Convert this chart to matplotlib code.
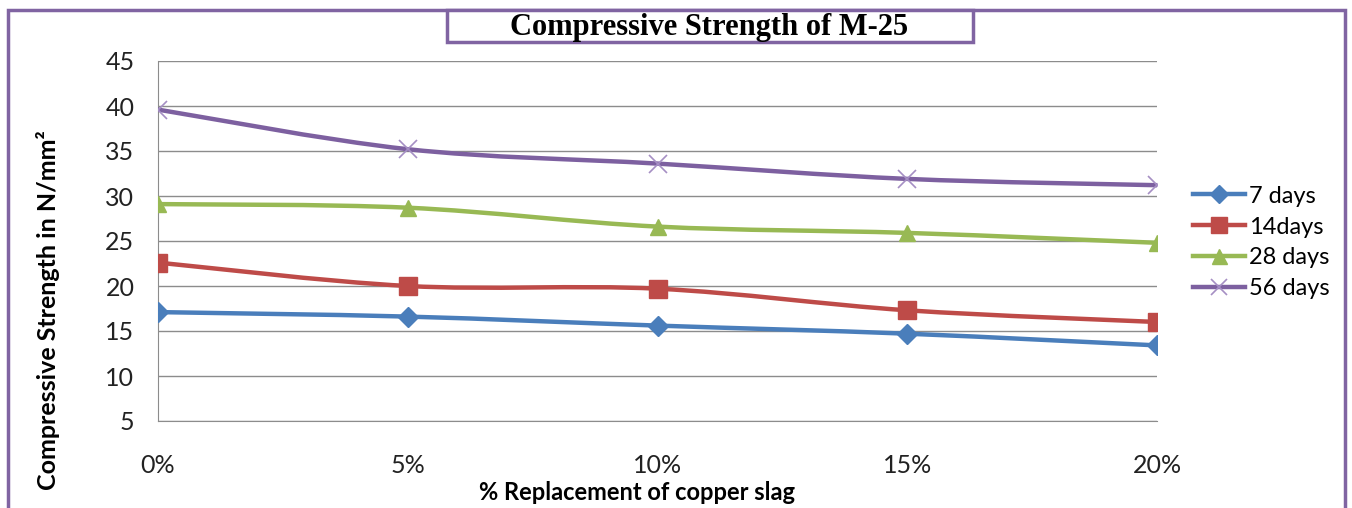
import numpy as np
import matplotlib.pyplot as plt
from matplotlib.path import Path
from matplotlib.patches import PathPatch, Rectangle
from matplotlib.lines import Line2D

# --- data ---
categories = ['0%', '5%', '10%', '15%', '20%']
days_7 = [17.1, 16.6, 15.6, 14.7, 13.4]
days_14 = [22.6, 20.0, 19.7, 17.3, 16.0]
days_28 = [29.1, 28.7, 26.6, 25.9, 24.8]
days_56 = [39.6, 35.2, 33.6, 31.9, 31.2]
series_names = ['7 days', '14days', '28 days', '56 days']

colors = ['#4A7EBB', '#BE4B48', '#98B954', '#7D60A0']
markers = ['D', 's', '^', 'x']
msizes = [10, 13, 12, 13]
border = '#8064A2'

W, H = 1352, 508


def smooth_path(xs, ys):
    # Excel-style smoothed line: Catmull-Rom as cubic Bezier segments
    p = np.column_stack([xs, ys]).astype(float)
    ext = np.vstack([p[0], p, p[-1]])
    verts = [p[0]]
    codes = [Path.MOVETO]
    for i in range(len(p) - 1):
        p0, p1, p2, p3 = ext[i], ext[i + 1], ext[i + 2], ext[i + 3]
        verts += [p1 + (p2 - p0) / 6, p2 - (p3 - p1) / 6, p2]
        codes += [Path.CURVE4] * 3
    return Path(verts, codes)


fig = plt.figure(figsize=(W / 100, H / 100), dpi=100)
ax = fig.add_axes([158 / W, 1 - 421 / H, (1157 - 158) / W, (421 - 61) / H])

x = np.arange(len(categories))
all_series = [days_7, days_14, days_28, days_56]
handles = []
for vals, c, m, ms, name in zip(all_series, colors, markers, msizes, series_names):
    ax.add_patch(PathPatch(smooth_path(x, vals), fill=False, edgecolor=c,
                           lw=3.2, zorder=3, capstyle='round'))
    if m == 'x':
        ax.plot(x, vals, ls='none', marker=m, ms=ms, mew=1.2, color='#A58FC4', zorder=4)
    else:
        ax.plot(x, vals, ls='none', marker=m, ms=ms, color=c, zorder=4)
    handles.append(Line2D([], [], color=c, lw=3.2, marker=m, ms=ms * 0.9,
                          mew=1.2 if m == 'x' else 1,
                          mec='#A58FC4' if m == 'x' else c,
                          mfc=c, label=name))

ax.set_xlim(0, 4)
ax.set_ylim(5, 45)
ax.set_yticks(np.arange(5, 46, 5))
ax.set_xticks(x)
ax.set_xticklabels(categories)
ax.grid(axis='y', color='#8C8C8C', lw=1)
ax.set_axisbelow(True)
for s in ['top', 'right']:
    ax.spines[s].set_visible(False)
for s in ['left', 'bottom']:
    ax.spines[s].set_color('#8C8C8C')
ax.tick_params(length=0, labelsize=18, colors='#222222')
ax.tick_params(axis='x', pad=24)
ax.tick_params(axis='y', pad=17)
for lab in ax.get_xticklabels() + ax.get_yticklabels():
    lab.set_family('Lato')

ax.set_xlabel('% Replacement of copper slag', fontsize=17, fontweight='bold',
              family='Lato', va='center')
ax.xaxis.set_label_coords((637 - 158) / 999, (421 - 492) / 360)
ax.set_ylabel('Compressive Strength in N/mm²', fontsize=18, fontweight='bold',
              family='Lato', va='center')
ax.yaxis.set_label_coords((48 - 158) / 999, (421 - 310) / 360)

leg = ax.legend(handles=handles, loc='upper left', bbox_to_anchor=(1.027, 0.68),
                frameon=False, prop={'family': 'Lato', 'size': 17},
                handlelength=2.2, handletextpad=0.15, labelspacing=0.42,
                borderaxespad=0)

# outer purple frame
fig.patches.append(Rectangle((8 / W, -0.05), (1345 - 8) / W, 1.05 - 10 / H,
                             transform=fig.transFigure, fill=False,
                             edgecolor=border, lw=2.5))
# title box
fig.patches.append(Rectangle((447 / W, 1 - 42 / H), (973 - 447) / W, 32 / H,
                             transform=fig.transFigure, facecolor='white',
                             edgecolor=border, lw=2.5))
fig.text(709 / W, 1 - 27 / H, 'Compressive Strength of M-25', ha='center',
         va='center', fontsize=22, fontweight='bold', family='Liberation Serif')

fig.savefig('out.png', dpi=100)
